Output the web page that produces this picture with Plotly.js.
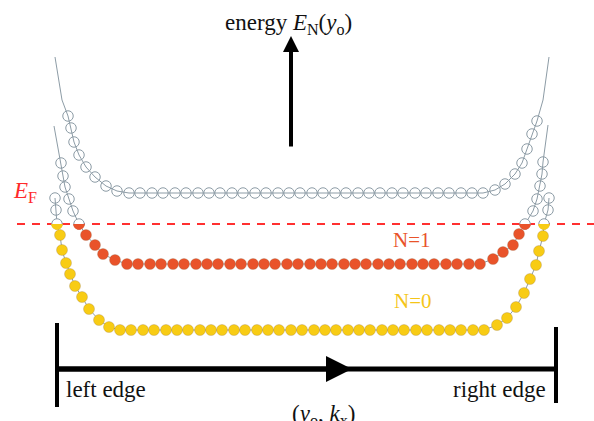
<!DOCTYPE html>
<html>
<head>
<meta charset="utf-8">
<script src="https://cdn.plot.ly/plotly-3.0.1.min.js"></script>
<style>html,body{margin:0;padding:0;background:#fff;}#chart{width:594px;height:421px;}</style>
</head>
<body>
<div id="chart"></div>
<script>
// Fermi level (energy, in plot units)
const EF = 224;

// Landau level N=2 (empty, above E_F)
const n2X = [68,71,74,79,86,95,106,117,
  129,140,152,163,175,186,198,209,220,232,243,255,266,278,289,300,312,323,335,346,358,369,380,392,403,415,426,438,449,461,472,
  483,495,505,515,522,527,532,537];
const n2Y = [116,128,142,155,167,177,186,191,
  193,193,193,193,193,193,193,193,193,193,193,193,193,193,193,193,193,193,193,193,193,193,193,193,193,193,193,193,193,193,193,
  193,190,184,174,163,149,134,121];
const n2LeftTailX = [55,62];  const n2LeftTailY = [57,100];
const n2RightTailX = [543,549]; const n2RightTailY = [100,57];

// Landau level N=1
const n1X = [61,63,65,69,73,79,86,95,103,115,
  127,138,150,161,173,184,196,207,218,230,241,253,264,275,287,298,310,321,332,344,355,366,378,389,400,412,423,434,446,457,469,480,
  493,503,513,519,525,533,537,540,542,543];
const n1Y = [163,176,187,199,211,224,235,245,254,260,
  264,264,264,264,264,264,264,264,264,264,264,264,264,264,264,264,264,264,264,264,264,264,264,264,264,264,264,264,264,264,264,264,
  259,252,245,234,224,211,199,186,174,162];
const n1LeftTailX = [54];  const n1LeftTailY = [126];
const n1RightTailX = [548]; const n1RightTailY = [125];

// Landau level N=0
const n0X = [55,56,57,60,62,66,70,75,82,89,99,109,
  120,131,143,154,166,177,188,200,211,222,234,245,257,268,279,291,302,314,325,336,348,359,370,382,393,404,416,427,439,450,461,473,484,
  497,507,516,524,530,536,539,543,544,548,549];
const n0Y = [198,210,224,235,250,263,274,286,297,309,320,327,
  330,330,330,330,330,330,330,330,330,330,330,330,330,330,330,330,330,330,330,330,330,330,330,330,330,330,330,330,330,330,330,330,330,
  325,318,307,293,279,265,251,236,224,210,198];

const levelNames = ['N=0','N=1'];
const fillColors = {n0:'#f8cc14', n1:'#e9532a'};
const GRAY = '#8d9ca6';

const traces = [];
const shapes = [];

// Fermi level
traces.push({x:[17,594], y:[EF,EF], mode:'lines', line:{color:'#ff3030', width:2, dash:'8px,7px'}, hoverinfo:'skip'});

function addLevel(xs, ys, lx, ly, rx, ry, fill) {
  const lineX = lx.concat(xs, rx), lineY = ly.concat(ys, ry);
  traces.push({x:lineX, y:lineY, mode:'lines', line:{color:GRAY, width:1}, hoverinfo:'skip'});
  const open = {x:[],y:[]}, full = {x:[],y:[]}, half = {x:[],y:[]};
  xs.forEach((x,i)=>{
    const y = ys[i];
    if (Math.abs(y-EF) < 2) { half.x.push(x); half.y.push(y); }
    else if (y < EF || !fill) { open.x.push(x); open.y.push(y); }
    else { full.x.push(x); full.y.push(y); }
  });
  traces.push({x:open.x, y:open.y, mode:'markers', marker:{symbol:'circle', size:10.5, color:'rgba(255,255,255,0)', line:{color:GRAY, width:1}}, hoverinfo:'skip'});
  if (fill) {
    traces.push({x:full.x, y:full.y, mode:'markers', marker:{symbol:'circle', size:11, color:fill, line:{color:'rgba(140,110,80,0.45)', width:0.6}}, hoverinfo:'skip'});
    traces.push({x:half.x, y:half.y, mode:'markers', marker:{symbol:'circle', size:10.5, color:'#ffffff', line:{color:GRAY, width:1}}, hoverinfo:'skip'});
    const r = 5.75, k = 0.5523*r;
    half.x.forEach((cx,i)=>{
      const cy = half.y[i];
      shapes.push({type:'path', xref:'x', yref:'y', layer:'above',
        path:`M${cx-r},${cy} C${cx-r},${cy+k} ${cx-k},${cy+r} ${cx},${cy+r} C${cx+k},${cy+r} ${cx+r},${cy+k} ${cx+r},${cy} Z`,
        fillcolor:fill, line:{width:0}});
    });
  }
}
addLevel(n2X, n2Y, n2LeftTailX, n2LeftTailY, n2RightTailX, n2RightTailY, null);
addLevel(n1X, n1Y, n1LeftTailX, n1LeftTailY, n1RightTailX, n1RightTailY, fillColors.n1);
addLevel(n0X, n0Y, [], [], [], [], fillColors.n0);

// axis frame
shapes.push({type:'line', xref:'x', yref:'y', x0:57, x1:556, y0:369, y1:369, line:{color:'black', width:5}});
shapes.push({type:'line', xref:'x', yref:'y', x0:57, x1:57, y0:323, y1:407, line:{color:'black', width:4}});
shapes.push({type:'line', xref:'x', yref:'y', x0:556, x1:556, y0:327, y1:403, line:{color:'black', width:4}});

const serif = 'Liberation Serif, Times New Roman, serif';
const annotations = [
  {x:291, y:36, ax:291, ay:148, xref:'x', yref:'y', axref:'x', ayref:'y', text:'', showarrow:true, arrowhead:2, arrowwidth:4, arrowsize:0.8, arrowcolor:'black'},
  {x:352, y:369, ax:57, ay:369, xref:'x', yref:'y', axref:'x', ayref:'y', text:'', showarrow:true, arrowhead:2, arrowwidth:5, arrowsize:1.04, arrowcolor:'black'},
  {x:288, y:24, xref:'x', yref:'y', text:'energy <i>E</i><sub>N</sub>(<i>y</i><sub>o</sub>)', showarrow:false, xanchor:'center', yanchor:'middle', font:{family:serif, size:23, color:'#111'}},
  {x:11, y:192, xref:'x', yref:'y', text:'<i>E</i><sub>F</sub>', showarrow:false, xanchor:'left', yanchor:'middle', font:{family:serif, size:23, color:'#ff2a2a'}},
  {x:412, y:240, xref:'x', yref:'y', text:levelNames[1], showarrow:false, xanchor:'center', yanchor:'middle', font:{family:serif, size:21, color:fillColors.n1}},
  {x:413, y:301, xref:'x', yref:'y', text:levelNames[0], showarrow:false, xanchor:'center', yanchor:'middle', font:{family:serif, size:21, color:'#f5c518'}},
  {x:64, y:389, xref:'x', yref:'y', text:'left edge', showarrow:false, xanchor:'left', yanchor:'middle', font:{family:serif, size:23, color:'#111'}},
  {x:548, y:389, xref:'x', yref:'y', text:'right edge', showarrow:false, xanchor:'right', yanchor:'middle', font:{family:serif, size:23, color:'#111'}},
  {x:323, y:415, xref:'x', yref:'y', text:'(<i>y</i><sub>o</sub>, <i>k</i><sub>x</sub>)', showarrow:false, xanchor:'center', yanchor:'middle', font:{family:serif, size:23, color:'#111'}}
];

const layout = {
  width:594, height:421, autosize:false, margin:{l:0,r:0,t:0,b:0,pad:0},
  paper_bgcolor:'#ffffff', plot_bgcolor:'#ffffff', showlegend:false,
  xaxis:{range:[0,594], visible:false, fixedrange:true},
  yaxis:{range:[421,0], visible:false, fixedrange:true},
  shapes:shapes, annotations:annotations
};
Plotly.newPlot('chart', traces, layout, {staticPlot:true, displayModeBar:false});
</script>
</body>
</html>
